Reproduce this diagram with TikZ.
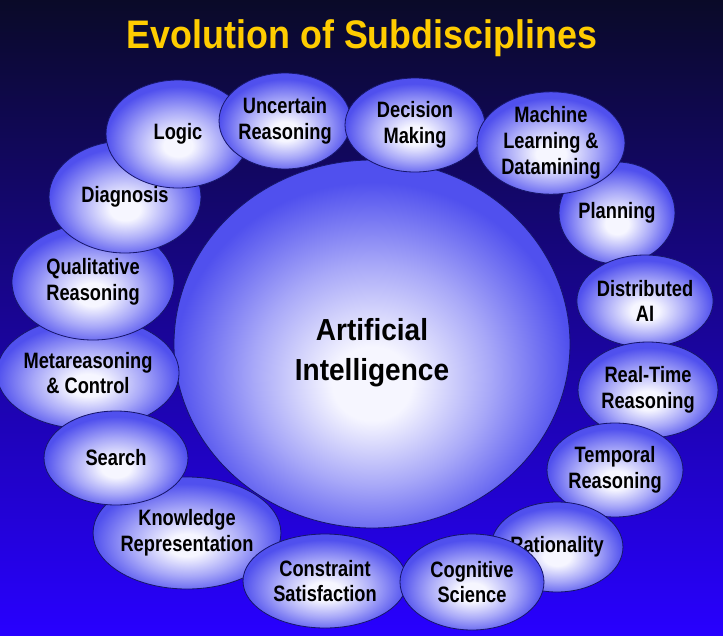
\documentclass[tikz,border=0pt]{standalone}
\usepackage{fontspec}
\setmainfont{Liberation Sans}
\newfontfamily\narrowsans{Liberation Sans}[FakeStretch=0.82]
\newfontfamily\coresans{Liberation Sans}[FakeStretch=0.92]
\newfontfamily\headsans{Liberation Sans}[FakeStretch=0.90]
\usetikzlibrary{shapes.geometric}

\definecolor{bgtop}{HTML}{0A0A28}
\definecolor{bgmid}{HTML}{1A06B4}
\definecolor{bgbot}{HTML}{2800FF}
\definecolor{orbin}{HTML}{F6F6FF}
\definecolor{orbmid}{HTML}{A8A8F8}
\definecolor{orbout}{HTML}{5050EE}
\definecolor{orbline}{HTML}{16166A}
\definecolor{headgold}{HTML}{FFCC00}

\pgfdeclareradialshading{orbshade}{\pgfpoint{0bp}{-6bp}}{color(0bp)=(orbin); color(5bp)=(orbin); color(15bp)=(orbmid); color(25bp)=(orbout); color(50bp)=(orbout)}

\begin{document}
\begin{tikzpicture}[
    x=0.03cm, y=-0.03cm,
    % Estilos: bolhas com sombreado radial
    orb/.style 2 args={ellipse, draw=orbline, line width=0.7pt, shade, shading=orbshade, inner sep=0pt,
        minimum width=#1*0.06cm, minimum height=#2*0.06cm, align=center,
        font=\narrowsans\bfseries\fontsize{19}{22}\selectfont},
    core/.style={orb={198}{184}, font=\coresans\bfseries\fontsize{26}{34}\selectfont},
    headline/.style={text=headgold, font=\headsans\bfseries\fontsize{34}{40}\selectfont}
]

    % ================= FUNDO =================
    \fill[top color=bgtop, middle color=bgmid, bottom color=bgbot] (0,0) rectangle (723,635);
    \useasboundingbox (0,0) rectangle (723,635);

    % ================= TITULO =================
    \node[headline] (title) at (362,38) {Evolution of Subdisciplines};

    % ================= NUCLEO =================
    \node[core] (ai) at (372,344) {\mbox{}\\Artificial\\Intelligence};

    % ================= SUBDISCIPLINAS (ordem = sobreposicao) =================
    \node[orb={86}{56}] (meta) at (88,373) {Metareasoning\\\& Control};
    \node[orb={87}{56}] (know) at (187,533) {Knowledge\\Representation};
    \node[orb={72}{47}] (search) at (116,458) {Search};
    \node[orb={81}{58}] (qual) at (93,282) {Qualitative\\Reasoning};
    \node[orb={76}{56}] (diag) at (125,197) {Diagnosis};
    \node[orb={72}{54}] (logic) at (178,134) {Logic};
    \node[orb={63}{48}] (uncert) at (285,121) {Uncertain\\Reasoning};
    \node[orb={70}{47}] (decis) at (415,125) {Decision\\Making};
    \node[orb={58}{51}] (plan) at (617,213) {Planning};
    \node[orb={74}{49}] (mach) at (551,143) {Machine\\Learning \&\\Datamining};
    \node[orb={67}{46}] (dist) at (645,301) {Distributed\\AI};
    \node[orb={70}{48}] (real) at (648,390) {Real-Time\\Reasoning};
    \node[orb={68}{47}] (temp) at (615,470) {Temporal\\Reasoning};
    \node[orb={64}{45}] (ratio) at (557,547) {Rationality};
    \node[orb={82}{47}] (constr) at (325,581) {Constraint\\Satisfaction};
    \node[orb={72}{48}] (cogn) at (472,582) {Cognitive\\Science};

\end{tikzpicture}
\end{document}
